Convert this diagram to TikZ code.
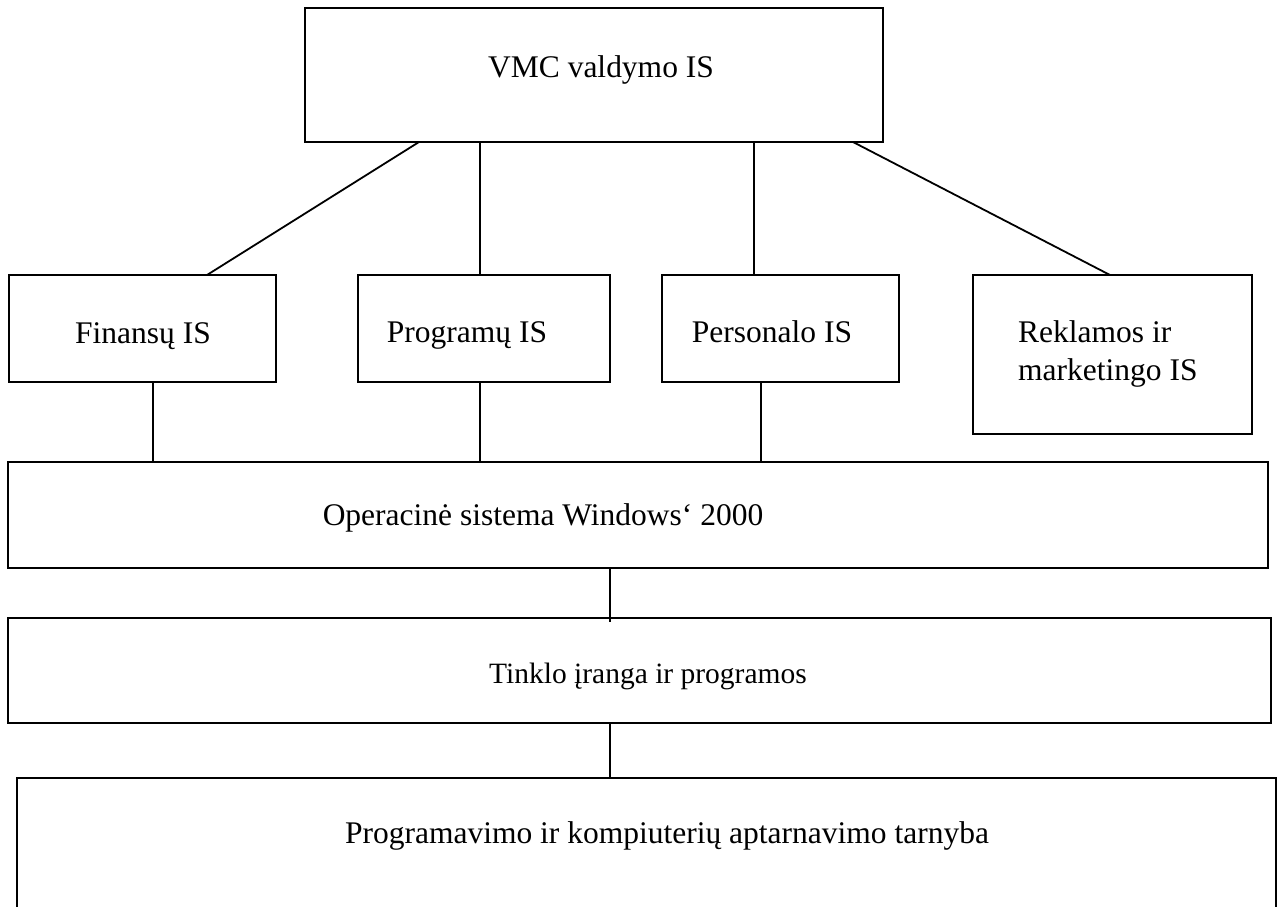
\documentclass[tikz,border=0pt]{standalone}
\usepackage{fontspec}
\setmainfont{Liberation Serif}
\begin{document}
\begin{tikzpicture}[x=1pt,y=-1pt,
  box/.style={draw, line width=2.4pt, inner sep=0pt, outer sep=0pt, anchor=north west},
  link/.style={line width=1.8pt},
  lbl/.style={inner sep=0pt, anchor=base, font=\fontsize{31.5}{38}\selectfont},
  smalllbl/.style={lbl, font=\fontsize{29.5}{36}\selectfont}]
\useasboundingbox[fill=white] (0,0) rectangle (1283,906);
\clip (0,0) rectangle (1283,906);

% boxes
\node[box, minimum width=578pt,  minimum height=134pt] (top)  at (305,8)   {};
\node[box, minimum width=267pt,  minimum height=107pt] (fin)  at (9,275)   {};
\node[box, minimum width=252pt,  minimum height=107pt] (prog) at (358,275) {};
\node[box, minimum width=237pt,  minimum height=107pt] (pers) at (662,275) {};
\node[box, minimum width=279pt,  minimum height=159pt] (rek)  at (973,275) {};
\node[box, minimum width=1260pt, minimum height=106pt] (os)   at (8,462)   {};
\node[box, minimum width=1263pt, minimum height=105pt] (tink) at (8,618)   {};
\node[box, minimum width=1259pt, minimum height=140pt] (bot)  at (17,778)  {};

% labels
\node[lbl] (tvmc)  at (601,77)  {VMC valdymo IS};
\node[lbl] (tfin)  at (143,343) {Finansų IS};
\node[lbl] (tprog) at (467,342) {Programų IS};
\node[lbl] (tpers) at (772,342) {Personalo IS};
% base of a two-line node sits on its last line
\node[lbl, anchor=base west, align=left] (trek) at (1018,380) {Reklamos ir\\marketingo IS};
\node[lbl] (tos)   at (543,525) {Operacinė sistema Windows‘ 2000};
\node[smalllbl] (ttink) at (648,683) {Tinklo įranga ir programos};
\node[lbl] (tbot)  at (667,843) {Programavimo ir kompiuterių aptarnavimo tarnyba};

% connectors from the management IS to the subsystems
\draw[link] ([xshift=114pt]top.south west) -- ([xshift=198pt]fin.north west);
\draw[link] ([xshift=175pt]top.south west) -- ([xshift=122pt]prog.north west);
\draw[link] ([xshift=449pt]top.south west) -- ([xshift=92pt]pers.north west);
\draw[link] ([xshift=548pt]top.south west) -- ([xshift=137pt]rek.north west);

% subsystems down to the operating system
\coordinate (cf) at ([xshift=144pt]fin.south west);
\coordinate (cp) at ([xshift=122pt]prog.south west);
\coordinate (cq) at ([xshift=99pt]pers.south west);
\draw[link] (cf) -- (cf |- os.north);
\draw[link] (cp) -- (cp |- os.north);
\draw[link] (cq) -- (cq |- os.north);

% lower stack
\coordinate (co) at ([xshift=602pt]os.south west);
\coordinate (ct) at ([xshift=602pt]tink.south west);
\draw[link] (co) -- ([yshift=-4pt]co |- tink.north);
\draw[link] (ct) -- (ct |- bot.north);
\end{tikzpicture}
\end{document}
